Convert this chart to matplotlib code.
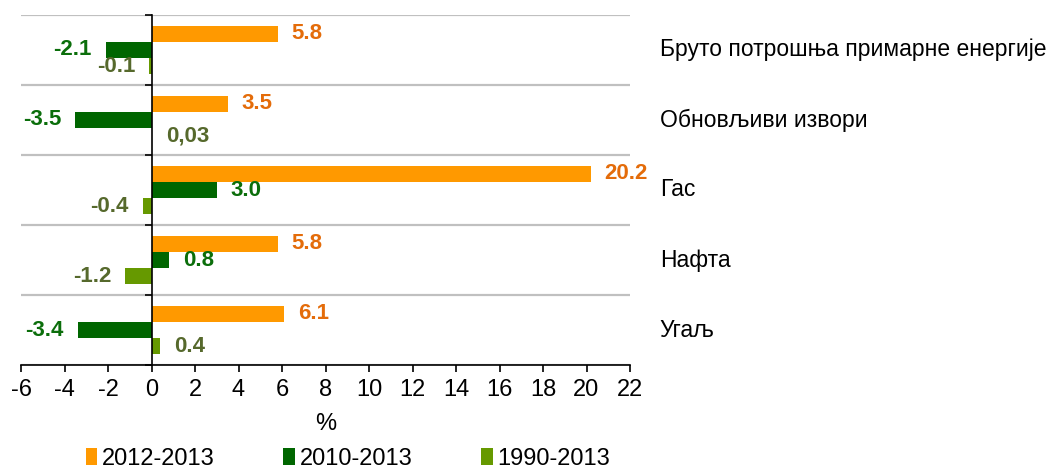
import numpy as np
import matplotlib.pyplot as plt

plt.rcParams['font.family'] = ['Liberation Sans', 'DejaVu Sans']
plt.rcParams['axes.unicode_minus'] = False

categories = ['Бруто потрошња примарне енергије', 'Обновљиви извори', 'Гас', 'Нафта', 'Угаљ']
series = ['2012-2013', '2010-2013', '1990-2013']
v_2012 = [5.8, 3.5, 20.2, 5.8, 6.1]
v_2010 = [-2.1, -3.5, 3.0, 0.8, -3.4]
v_1990 = [-0.1, 0.03, -0.4, -1.2, 0.4]
lbl_2012 = ['5.8', '3.5', '20.2', '5.8', '6.1']
lbl_2010 = ['-2.1', '-3.5', '3.0', '0.8', '-3.4']
lbl_1990 = ['-0.1', '0,03', '-0.4', '-1.2', '0.4']

bar_colors = ['#ff9900', '#006600', '#669900']
text_colors = ['#e46c0a', '#0b6e0b', '#56692c']

fig = plt.figure(figsize=(10.56, 4.69), dpi=100)
ax = fig.add_axes([21/1056, 1 - 365/469, 609/1056, 350/469])

y = np.arange(len(categories))
h = 0.23
offsets = [-h, 0, h]
data = [v_2012, v_2010, v_1990]
labels = [lbl_2012, lbl_2010, lbl_1990]

for k in range(3):
    ax.barh(y + offsets[k], data[k], height=h, color=bar_colors[k], label=series[k], zorder=3)
    for i, v in enumerate(data[k]):
        dx = 10 if v >= 0 else -10
        ax.annotate(labels[k][i], (v, y[i] + offsets[k]), xytext=(dx, 0), textcoords='offset points',
                    ha='left' if v >= 0 else 'right', va='center', fontsize=16, fontweight='bold',
                    color=text_colors[k], zorder=4)

for g in np.arange(-0.5, len(categories), 1):
    ax.axhline(g, color='#c0c0c0', lw=1.6, zorder=1)

ax.set_xlim(-6, 22)
ax.set_ylim(len(categories) - 0.5, -0.5)
ax.set_xticks(np.arange(-6, 23, 2))
ax.set_yticks(np.arange(-0.5, len(categories), 1))
ax.set_yticklabels([])
ax.tick_params(axis='x', labelsize=17, length=5, width=1.2, pad=5)
ax.tick_params(axis='y', length=5, width=1.2)
ax.spines['top'].set_visible(False)
ax.spines['right'].set_visible(False)
ax.spines['left'].set_position(('data', 0))
ax.spines['left'].set_linewidth(1.2)
ax.spines['left'].set_zorder(5)
ax.spines['bottom'].set_linewidth(1.2)
ax.set_xlabel('%', fontsize=17, labelpad=9)

for i, c in enumerate(categories):
    ax.text(1.049, y[i], c, transform=ax.get_yaxis_transform(), ha='left', va='center', fontsize=16.5)

fig.legend(loc='center', bbox_to_anchor=(348/1056, 1 - 459/469), ncol=3, frameon=False,
           fontsize=17, handlelength=0.5, handleheight=0.7, handletextpad=0.2, columnspacing=2.9)

fig.savefig('out.png', dpi=100)
